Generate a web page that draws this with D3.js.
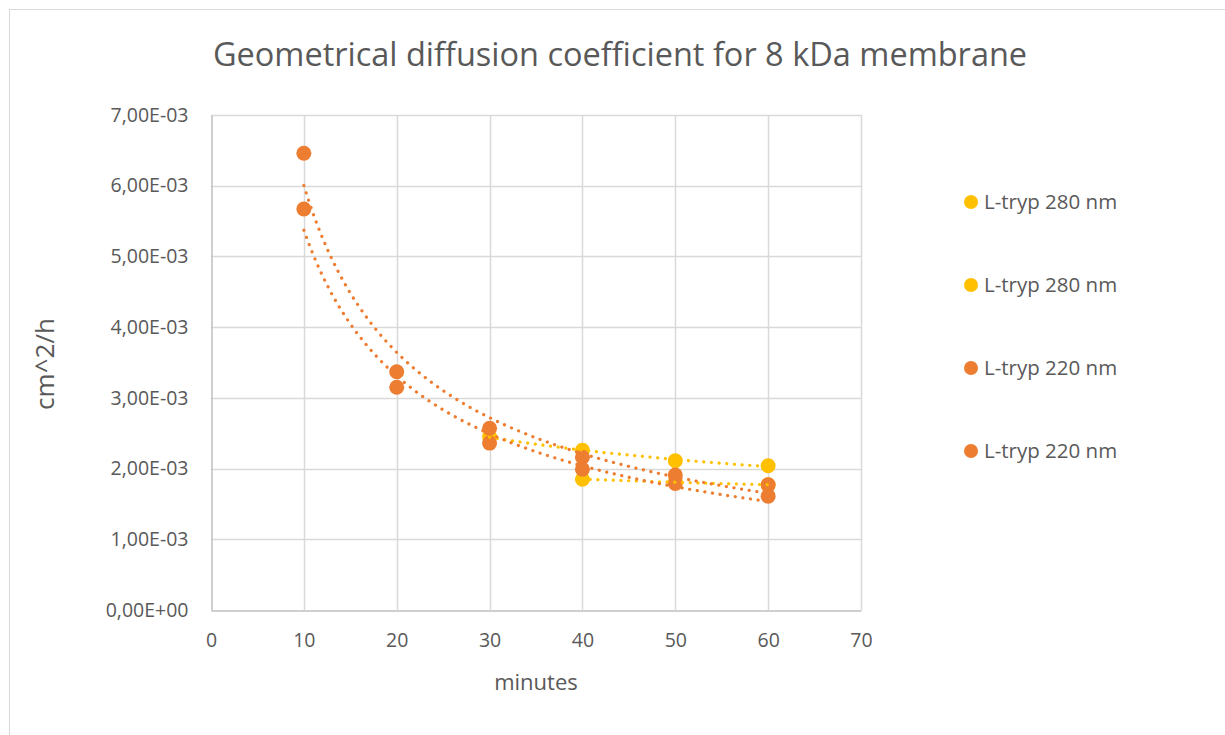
<!DOCTYPE html>
<html>
<head>
<meta charset="utf-8">
<script src="https://cdn.jsdelivr.net/npm/d3@7/dist/d3.min.js"></script>
<style>
  html, body { margin: 0; padding: 0; background: #ffffff; }
  svg { display: block; }
  text { font-family: "Open Sans", "Noto Sans", sans-serif; fill: #595959; }
</style>
</head>
<body>
<svg id="chart" width="1225" height="735"></svg>
<script>
// Diffusion coefficient (cm^2/h) against time (minutes)
const seriesNames = ["L-tryp 280 nm", "L-tryp 280 nm", "L-tryp 220 nm", "L-tryp 220 nm"];
const seriesColors = ["#FFC000", "#FFC000", "#ED7D31", "#ED7D31"];

const tryp280aMinutes = [30, 40, 50, 60];
const tryp280aValues  = [2.45e-3, 2.26e-3, 2.11e-3, 2.04e-3];

const tryp280bMinutes = [40, 50, 60];
const tryp280bValues  = [1.85e-3, 1.81e-3, 1.77e-3];

const tryp220aMinutes = [10, 20, 30, 40, 50, 60];
const tryp220aValues  = [6.46e-3, 3.37e-3, 2.57e-3, 2.16e-3, 1.91e-3, 1.77e-3];

const tryp220bMinutes = [10, 20, 30, 40, 50, 60];
const tryp220bValues  = [5.67e-3, 3.15e-3, 2.36e-3, 1.99e-3, 1.79e-3, 1.61e-3];

const xTicks = [0, 10, 20, 30, 40, 50, 60, 70];
const yTicks = [0, 1e-3, 2e-3, 3e-3, 4e-3, 5e-3, 6e-3, 7e-3];
const yTickLabels = ["0,00E+00", "1,00E-03", "2,00E-03", "3,00E-03", "4,00E-03", "5,00E-03", "6,00E-03", "7,00E-03"];

const titleText = "Geometrical diffusion coefficient for 8 kDa membrane";
const xTitle = "minutes";
const yTitle = "cm^2/h";

const series = [
  { x: tryp280aMinutes, y: tryp280aValues },
  { x: tryp280bMinutes, y: tryp280bValues },
  { x: tryp220aMinutes, y: tryp220aValues },
  { x: tryp220bMinutes, y: tryp220bValues }
].map((s, i) => ({
  name: seriesNames[i],
  color: seriesColors[i],
  points: s.x.map((m, j) => ({ x: m, y: s.y[j] }))
}));

const svg = d3.select("#chart");

// chart frame
svg.append("rect")
  .attr("x", 9.5).attr("y", 9.5)
  .attr("width", 1240).attr("height", 760)
  .attr("fill", "#ffffff")
  .attr("stroke", "#d9d9d9").attr("stroke-width", 1);

const plot = { left: 211, right: 861, top: 115, bottom: 610 };

const x = d3.scaleLinear().domain([0, 70]).range([plot.left, plot.right]);
const y = d3.scaleLinear().domain([0, 7e-3]).range([plot.bottom, plot.top]);

// gridlines
const grid = svg.append("g");
grid.selectAll("line.h").data(yTicks.slice(1)).join("line")
  .attr("x1", plot.left).attr("x2", plot.right)
  .attr("y1", d => Math.round(y(d)) + 0.5).attr("y2", d => Math.round(y(d)) + 0.5)
  .attr("stroke", "#d9d9d9").attr("stroke-width", 1.5);
grid.selectAll("line.v").data(xTicks.slice(1)).join("line")
  .attr("y1", plot.top).attr("y2", plot.bottom)
  .attr("x1", d => Math.round(x(d)) + 0.5).attr("x2", d => Math.round(x(d)) + 0.5)
  .attr("stroke", "#d9d9d9").attr("stroke-width", 1.5);

// axes
const xAxis = svg.append("g")
  .attr("transform", `translate(0,${plot.bottom + 0.5})`)
  .call(d3.axisBottom(x).tickValues(xTicks).tickSize(0).tickPadding(23).tickFormat(d3.format("d")));
const yAxis = svg.append("g")
  .attr("transform", `translate(${plot.left + 0.5},0)`)
  .call(d3.axisLeft(y).tickValues(yTicks).tickSize(0).tickPadding(23)
    .tickFormat((d, i) => yTickLabels[i]));
[xAxis, yAxis].forEach(a => {
  a.select(".domain").attr("stroke", "#bfbfbf").attr("stroke-width", 1.5);
  a.selectAll("text").attr("font-size", 19.5).attr("fill", "#595959")
    .style("font-family", '"Open Sans", sans-serif');
});

// markers
const markers = svg.append("g");
series.forEach(s => {
  markers.selectAll(null).data(s.points).join("circle")
    .attr("cx", d => x(d.x)).attr("cy", d => y(d.y))
    .attr("r", 7.5).attr("fill", s.color);
});

// power trendlines: y = a * x^b fitted in log-log space
function powerFit(points) {
  const lx = points.map(p => Math.log(p.x));
  const ly = points.map(p => Math.log(p.y));
  const mx = d3.mean(lx), my = d3.mean(ly);
  const b = d3.sum(lx, (v, i) => (v - mx) * (ly[i] - my)) / d3.sum(lx, v => (v - mx) * (v - mx));
  const a = Math.exp(my - b * mx);
  return t => a * Math.pow(t, b);
}
const trend = svg.append("g");
series.forEach(s => {
  const f = powerFit(s.points);
  const [x0, x1] = d3.extent(s.points, p => p.x);
  const samples = d3.range(0, 101).map(k => x0 + (x1 - x0) * k / 100);
  trend.append("path")
    .datum(samples)
    .attr("d", d3.line().x(t => x(t)).y(t => y(f(t))))
    .attr("fill", "none")
    .attr("stroke", s.color)
    .attr("stroke-width", 3.2)
    .attr("stroke-linecap", "round")
    .attr("stroke-dasharray", "0.1 7.6");
});

// titles
svg.append("text")
  .attr("x", 620).attr("y", 66)
  .attr("text-anchor", "middle")
  .attr("font-size", 32.5)
  .text(titleText);
svg.append("text")
  .attr("x", 536).attr("y", 690)
  .attr("text-anchor", "middle")
  .attr("font-size", 22)
  .text(xTitle);
svg.append("text")
  .attr("transform", "translate(54,364) rotate(-90)")
  .attr("text-anchor", "middle")
  .attr("font-size", 26)
  .text(yTitle);

// legend
const legend = svg.append("g");
const legendY = [202, 285, 368, 451];
series.forEach((s, i) => {
  const g = legend.append("g").attr("transform", `translate(971,${legendY[i]})`);
  g.append("circle").attr("r", 7).attr("fill", s.color);
  g.append("text").attr("x", 13).attr("dy", "0.35em").attr("font-size", 20.5).text(s.name);
});
</script>
</body>
</html>
